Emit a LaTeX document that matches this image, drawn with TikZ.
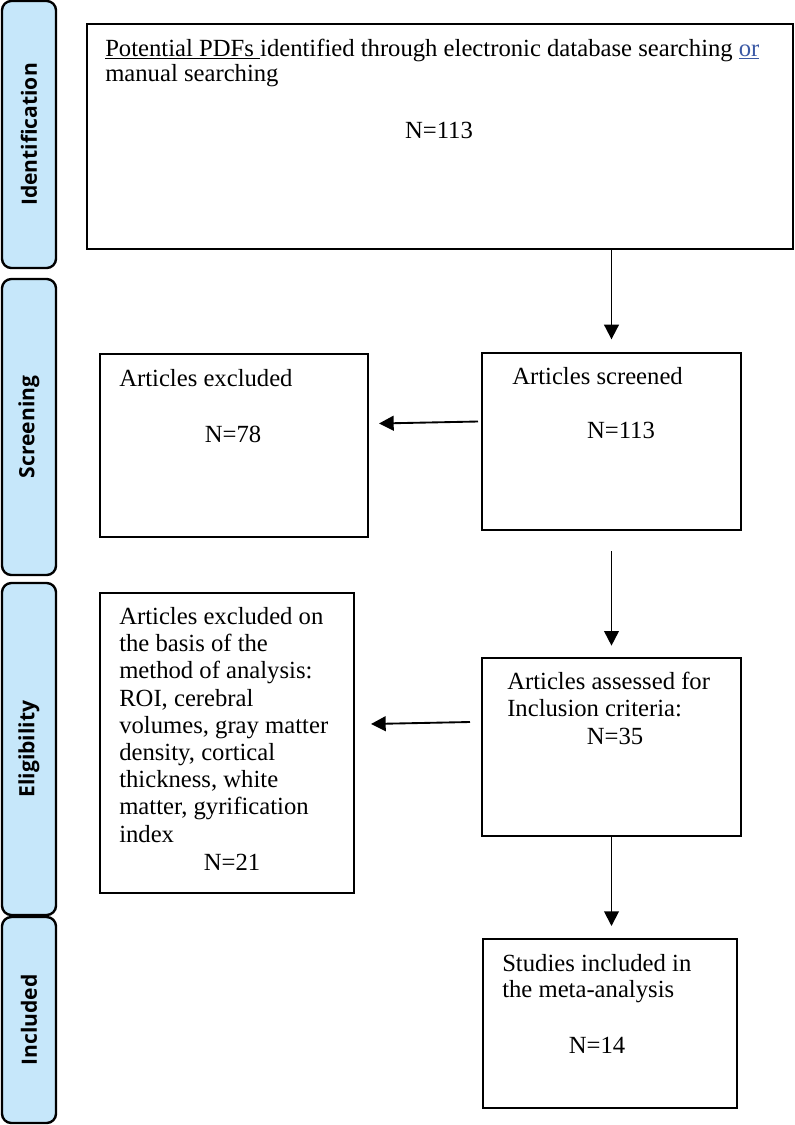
\documentclass[tikz,border=0pt]{standalone}
\usepackage{fontspec}
\setmainfont{Liberation Serif}
\newfontfamily\tabfont{Open Sans}
\usepackage{xcolor}
\usepackage{tikz}
\usetikzlibrary{arrows.meta,positioning,fit,calc}
\definecolor{tabblue}{RGB}{198,231,250}
\definecolor{linkblue}{RGB}{59,89,165}

\begin{document}
\begin{tikzpicture}[
    x=0.75pt, y=-0.75pt,
    box/.style={rectangle, draw, line width=1.5pt, inner sep=0pt},
    tab/.style={rectangle, draw, line width=1.8pt, rounded corners=7pt, fill=tabblue, inner sep=0pt},
    tablabel/.style={rotate=90, inner sep=0pt, font=\tabfont\bfseries\fontsize{15.8}{18}\selectfont},
    txt/.style={anchor=base west, align=left, inner sep=0pt, font=\fontsize{18.5}{20.4}\selectfont},
    num/.style={anchor=base, inner sep=0pt, font=\fontsize{18.5}{20.4}\selectfont},
    arrow/.style={-{Triangle[length=11pt, width=11pt]}, line width=1.4pt}
]
    \useasboundingbox (0,0) rectangle (794,1125);

    % stage tabs on the left
    \node[tab, fit={(2,1) (56,268)}] (tabid) {};
    \node[tab, fit={(2,279) (56,575)}] (tabscr) {};
    \node[tab, fit={(2,583) (56,915)}] (tabel) {};
    \node[tab, fit={(2,917) (56,1123)}] (tabinc) {};
    \node[tablabel] (labid) at (tabid.center) {Identification};
    \node[tablabel] (labscr) at (tabscr.center) {Screening};
    \node[tablabel] (label) at (tabel.center) {Eligibility};
    \node[tablabel] (labinc) at (tabinc.center) {Included};

    % boxes
    \node[box, fit={(87,24) (793,249)}] (ident) {};
    \node[box, fit={(482,353) (741,530)}] (screen) {};
    \node[box, fit={(100,354) (368,537)}] (excl) {};
    \node[box, fit={(482,658) (741,836)}] (assess) {};
    \node[box, fit={(100,593) (354,893)}] (exclm) {};
    \node[box, fit={(483,939) (737,1108)}] (incl) {};

    % box texts (base = last line)
    \node[txt, font=\fontsize{18.5}{18.75}\selectfont] (identtxt) at ($(ident.north west)+(19,58)$)
        {\underline{Potential PDFs\ }identified through electronic database searching \textcolor{linkblue}{\underline{or}}\\manual searching};
    \node[num] (identn) at (439,138) {N=113};
    \node[txt] (screentxt) at ($(screen.north west)+(31,32)$) {Articles screened};
    \node[num] (screenn) at (621,438) {N=113};
    \node[txt] (excltxt) at ($(excl.north west)+(20,33)$) {Articles excluded};
    \node[num] (excln) at (233,442) {N=78};
    \node[txt, font=\fontsize{18.5}{20.25}\selectfont] (assesstxt) at ($(assess.north west)+(26,59)$)
        {Articles assessed for\\Inclusion criteria:};
    \node[num] (assessn) at (615,744) {N=35};
    \node[txt] (exclmtxt) at ($(exclm.north west)+(20,250)$)
        {Articles excluded on\\the basis of the\\method of analysis:\\ROI, cerebral\\volumes, gray matter\\density, cortical\\thickness, white\\matter, gyrification\\index};
    \node[num] (exclmn) at (232,870) {N=21};
    \node[txt, font=\fontsize{18.5}{19.5}\selectfont] (incltxt) at ($(incl.north west)+(20,59)$)
        {Studies included in\\the meta-analysis};
    \node[num] (incln) at (597,1053) {N=14};

    % connectors
    \draw[arrow, shorten >=9.5pt] (ident.south -| screen.north) -- (screen.north);
    \draw[arrow] ($(screen.west)+(-3,-20)$) -- ($(excl.east)+(10,-22)$);
    \draw[arrow, shorten <=15pt, shorten >=8.5pt] (screen.south) -- (assess.north);
    \draw[arrow] ($(assess.west)+(-11,-25)$) -- ($(exclm.east)+(16,-19)$);
    \draw[arrow, shorten >=9pt] (assess.south) -- (incl.north -| assess.south);
\end{tikzpicture}
\end{document}
